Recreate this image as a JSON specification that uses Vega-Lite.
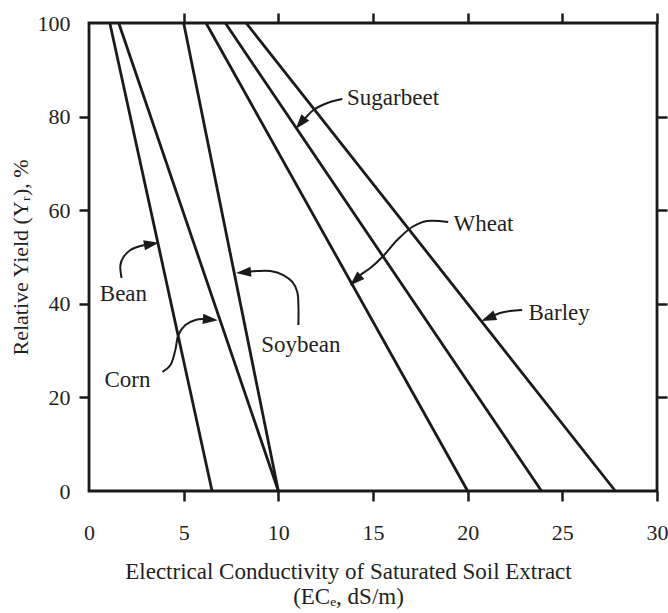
{
  "$schema": "https://vega.github.io/schema/vega-lite/v6.json",
  "width": 568,
  "height": 468,
  "autosize": "none",
  "padding": {"left": 89, "top": 23, "right": 11, "bottom": 122},
  "background": "white",
  "config": {
    "view": {"stroke": "#1a1a1a", "strokeWidth": 2.8},
    "font": "Liberation Serif",
    "axis": {
      "domain": false,
      "grid": false,
      "tickColor": "#1a1a1a",
      "tickWidth": 2.5,
      "tickSize": 10,
      "labelFlush": false,
      "labelFont": "Liberation Serif",
      "labelFontSize": 22,
      "labelColor": "#231f20",
      "titleFont": "Liberation Serif",
      "titleFontSize": 23,
      "titleFontWeight": "normal",
      "titleColor": "#231f20"
    }
  },
  "datasets": {
    "crops": [
      {"crop": "Bean", "ec": 1.1, "yield": 100},
      {"crop": "Bean", "ec": 6.5, "yield": 0},
      {"crop": "Corn", "ec": 1.57, "yield": 100},
      {"crop": "Corn", "ec": 10.0, "yield": 0},
      {"crop": "Soybean", "ec": 5.0, "yield": 100},
      {"crop": "Soybean", "ec": 10.0, "yield": 0},
      {"crop": "Wheat", "ec": 6.18, "yield": 100},
      {"crop": "Wheat", "ec": 20.0, "yield": 0},
      {"crop": "Sugarbeet", "ec": 7.2, "yield": 100},
      {"crop": "Sugarbeet", "ec": 23.9, "yield": 0},
      {"crop": "Barley", "ec": 8.3, "yield": 100},
      {"crop": "Barley", "ec": 27.8, "yield": 0}
    ],
    "arrows": [
      {"crop": "Sugarbeet", "i": 0, "ec": 13.38, "yield": 83.76},
      {"crop": "Sugarbeet", "i": 1, "ec": 12.59, "yield": 82.91},
      {"crop": "Sugarbeet", "i": 2, "ec": 11.85, "yield": 81.41},
      {"crop": "Sugarbeet", "i": 3, "ec": 11.48, "yield": 79.91},
      {"crop": "Sugarbeet", "i": 4, "ec": 11.21, "yield": 78.85},
      {"crop": "Wheat", "i": 0, "ec": 18.97, "yield": 57.48},
      {"crop": "Wheat", "i": 1, "ec": 17.86, "yield": 57.69},
      {"crop": "Wheat", "i": 2, "ec": 17.07, "yield": 56.41},
      {"crop": "Wheat", "i": 3, "ec": 16.28, "yield": 53.63},
      {"crop": "Wheat", "i": 4, "ec": 15.49, "yield": 50.0},
      {"crop": "Wheat", "i": 5, "ec": 14.86, "yield": 47.65},
      {"crop": "Wheat", "i": 6, "ec": 14.33, "yield": 46.15},
      {"crop": "Wheat", "i": 7, "ec": 14.11, "yield": 45.17},
      {"crop": "Barley", "i": 0, "ec": 22.88, "yield": 38.68},
      {"crop": "Barley", "i": 1, "ec": 22.24, "yield": 38.46},
      {"crop": "Barley", "i": 2, "ec": 21.71, "yield": 38.03},
      {"crop": "Barley", "i": 3, "ec": 21.13, "yield": 37.05},
      {"crop": "Bean", "i": 0, "ec": 1.72, "yield": 45.51},
      {"crop": "Bean", "i": 1, "ec": 1.66, "yield": 48.29},
      {"crop": "Bean", "i": 2, "ec": 1.82, "yield": 50.0},
      {"crop": "Bean", "i": 3, "ec": 2.19, "yield": 51.5},
      {"crop": "Bean", "i": 4, "ec": 2.72, "yield": 52.35},
      {"crop": "Bean", "i": 5, "ec": 3.28, "yield": 52.76},
      {"crop": "Corn", "i": 0, "ec": 3.88, "yield": 25.43},
      {"crop": "Corn", "i": 1, "ec": 4.3, "yield": 26.92},
      {"crop": "Corn", "i": 2, "ec": 4.56, "yield": 30.13},
      {"crop": "Corn", "i": 3, "ec": 4.72, "yield": 33.33},
      {"crop": "Corn", "i": 4, "ec": 5.09, "yield": 35.47},
      {"crop": "Corn", "i": 5, "ec": 5.62, "yield": 36.54},
      {"crop": "Corn", "i": 6, "ec": 6.04, "yield": 36.75},
      {"crop": "Corn", "i": 7, "ec": 6.39, "yield": 36.67},
      {"crop": "Soybean", "i": 0, "ec": 11.06, "yield": 35.47},
      {"crop": "Soybean", "i": 1, "ec": 11.06, "yield": 39.74},
      {"crop": "Soybean", "i": 2, "ec": 11.0, "yield": 42.52},
      {"crop": "Soybean", "i": 3, "ec": 10.74, "yield": 44.66},
      {"crop": "Soybean", "i": 4, "ec": 10.26, "yield": 46.15},
      {"crop": "Soybean", "i": 5, "ec": 9.58, "yield": 47.01},
      {"crop": "Soybean", "i": 6, "ec": 8.89, "yield": 47.01},
      {"crop": "Soybean", "i": 7, "ec": 8.18, "yield": 46.71}
    ],
    "heads": [
      {"crop": "Sugarbeet", "ec": 11.17, "yield": 78.6},
      {"crop": "Wheat", "ec": 14.07, "yield": 45.0},
      {"crop": "Barley", "ec": 21.09, "yield": 36.95},
      {"crop": "Bean", "ec": 3.3, "yield": 52.78},
      {"crop": "Corn", "ec": 6.41, "yield": 36.65},
      {"crop": "Soybean", "ec": 8.16, "yield": 46.7}
    ],
    "labels": [
      {"crop": "Sugarbeet", "ec": 13.63, "yield": 82.48},
      {"crop": "Wheat", "ec": 19.25, "yield": 55.62},
      {"crop": "Barley", "ec": 23.21, "yield": 36.54},
      {"crop": "Bean", "ec": 0.57, "yield": 40.66},
      {"crop": "Corn", "ec": 0.82, "yield": 22.29},
      {"crop": "Soybean", "ec": 9.1, "yield": 29.76}
    ]
  },
  "resolve": {"axis": {"x": "independent", "y": "independent"}},
  "layer": [
    {
      "data": {"name": "crops"},
      "mark": {"type": "line", "color": "#1a1a1a", "strokeWidth": 2.8},
      "encoding": {
        "x": {
          "field": "ec", "type": "quantitative",
          "scale": {"domain": [0, 30], "nice": false, "zero": false},
          "axis": {
            "orient": "bottom",
            "values": [0, 5, 10, 15, 20, 25, 30],
            "labelBaseline": "alphabetic",
            "labelPadding": 38,
            "tickColor": {"condition": {"test": "datum.value == 0", "value": "transparent"}, "value": "#1a1a1a"},
            "title": ["Electrical Conductivity of Saturated Soil Extract", "(ECₑ, dS/m)"],
            "titleBaseline": "alphabetic",
            "titleAlign": "center",
            "titleAnchor": null,
            "titleX": 259,
            "titleY": 87,
            "titleLineHeight": 25
          }
        },
        "y": {
          "field": "yield", "type": "quantitative",
          "scale": {"domain": [0, 100], "nice": false, "zero": false},
          "axis": {
            "orient": "left",
            "values": [0, 20, 40, 60, 80, 100],
            "labelPadding": 9,
            "labelBaseline": "middle",
            "tickColor": {"condition": {"test": "datum.value == 0 || datum.value == 100", "value": "transparent"}, "value": "#1a1a1a"},
            "title": "Relative Yield (Yᵣ), %",
            "titleFontSize": 22,
            "titleAngle": -90,
            "titleBaseline": "alphabetic",
            "titleAlign": "center",
            "titleAnchor": null,
            "titleX": -62,
            "titleY": 234
          }
        },
        "detail": {"field": "crop"}
      }
    },
    {
      "data": {"name": "crops"},
      "mark": {"type": "point", "opacity": 0},
      "encoding": {
        "x": {
          "field": "ec", "type": "quantitative",
          "axis": {"orient": "top", "values": [5, 10, 15, 20, 25, 30], "labels": false, "title": null}
        },
        "y": {
          "field": "yield", "type": "quantitative",
          "axis": {"orient": "right", "values": [20, 40, 60, 80], "labels": false, "title": null}
        }
      }
    },
    {
      "data": {"name": "arrows"},
      "mark": {"type": "line", "color": "#1a1a1a", "strokeWidth": 2, "interpolate": "catmull-rom"},
      "encoding": {
        "x": {"field": "ec", "type": "quantitative", "axis": null},
        "y": {"field": "yield", "type": "quantitative", "axis": null},
        "detail": {"field": "crop"},
        "order": {"field": "i"}
      }
    },
    {
      "data": {"name": "heads"},
      "mark": {"type": "point", "filled": true, "color": "#1a1a1a", "opacity": 1, "size": 225, "shape": "M0,-1L0.68,1L-0.68,1Z"},
      "encoding": {
        "x": {"field": "ec", "type": "quantitative", "axis": null},
        "y": {"field": "yield", "type": "quantitative", "axis": null},
        "angle": {
          "field": "crop", "type": "nominal", "legend": null,
          "scale": {"type": "ordinal", "domain": ["Sugarbeet", "Wheat", "Barley", "Bean", "Corn", "Soybean"], "range": [220, 227, 248, 80, 95, 265]}
        }
      }
    },
    {
      "data": {"name": "labels"},
      "mark": {"type": "text", "align": "left", "baseline": "alphabetic", "font": "Liberation Serif", "fontSize": 23, "color": "#231f20"},
      "encoding": {
        "x": {"field": "ec", "type": "quantitative", "axis": null},
        "y": {"field": "yield", "type": "quantitative", "axis": null},
        "text": {"field": "crop"}
      }
    }
  ]
}
